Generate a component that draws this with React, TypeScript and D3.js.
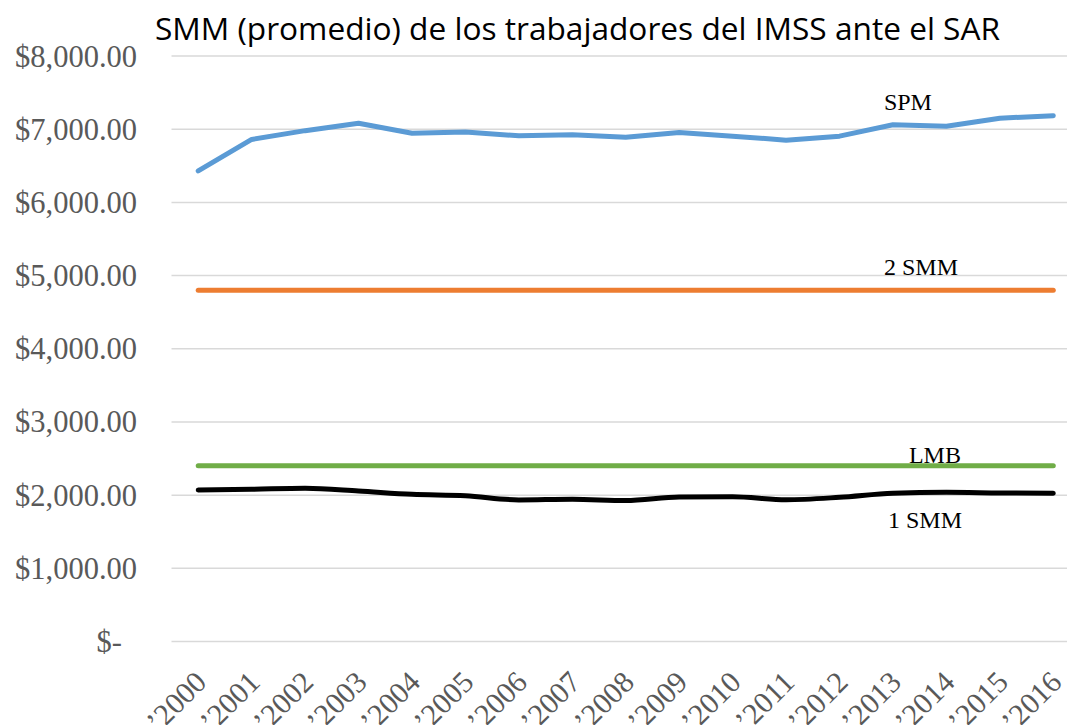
import * as d3 from "d3";

const width = 1067;
const height = 725;

const years = ["2000", "2001", "2002", "2003", "2004", "2005", "2006", "2007", "2008",
  "2009", "2010", "2011", "2012", "2013", "2014", "2015", "2016"];

const spm = [6430, 6860, 6980, 7080, 6945, 6960, 6910, 6925, 6890, 6955, 6905, 6850, 6905, 7060, 7040, 7150, 7185];
const smm2 = [4800, 4800, 4800, 4800, 4800, 4800, 4800, 4800, 4800, 4800, 4800, 4800, 4800, 4800, 4800, 4800, 4800];
const lmb = [2400, 2400, 2400, 2400, 2400, 2400, 2400, 2400, 2400, 2400, 2400, 2400, 2400, 2400, 2400, 2400, 2400];
const smm1 = [2070, 2080, 2093, 2056, 2011, 1992, 1935, 1943, 1925, 1974, 1978, 1937, 1970, 2025, 2038, 2030, 2025];

const yTicks = [0, 1000, 2000, 3000, 4000, 5000, 6000, 7000, 8000];

const title = "SMM (promedio) de los trabajadores del IMSS ante el SAR";

const series = [
  { name: "SPM", values: spm, color: "#5b9bd5", smooth: false, label: { dx: 15, dy: -15, at: "2013" } },
  { name: "2 SMM", values: smm2, color: "#ed7d31", smooth: false, label: { dx: 28, dy: -15, at: "2013" } },
  { name: "LMB", values: lmb, color: "#70ad47", smooth: false, label: { dx: 42, dy: -3, at: "2013" } },
  { name: "1 SMM", values: smm1, color: "#000000", smooth: true, label: { dx: 32, dy: 35, at: "2013" } },
];

const fmt = (v: number) => (v === 0 ? "$-" : "$" + d3.format(",.2f")(v));

export default function App() {
  const x = d3.scalePoint<string>().domain(years).range([171.5, 1080]).padding(0.5);
  const y = d3.scaleLinear().domain([0, 8000]).range([641.5, 56]);

  const serif = "'Liberation Serif', 'Times New Roman', serif";

  return (
    <svg width={width} height={height} style={{ position: "absolute", left: 0, top: 0, background: "#fff" }}>
      <text x={155} y={40} fontFamily="'Open Sans', sans-serif" fontSize={31} fill="#000"
        textLength={845} lengthAdjust="spacingAndGlyphs">
        {title}
      </text>

      {yTicks.map((t) => (
        <g key={t} transform={`translate(0,${y(t)})`}>
          <line x1={171.5} x2={1080} stroke="#d9d9d9" strokeWidth={1.5} />
          <text x={t === 0 ? 122 : 137} y={10.5} textAnchor="end" fontFamily={serif} fontSize={30.5} fill="#595959">
            {fmt(t)}
          </text>
        </g>
      ))}

      {years.map((yr) => (
        <text key={yr} transform={`translate(${(x(yr) as number) + 10},684) rotate(-45)`}
          textAnchor="end" fontFamily={serif} fontSize={30} fill="#595959">
          {"’" + yr}
        </text>
      ))}

      {series.map((s) => {
        const gen = d3.line<number>()
          .x((_, i) => x(years[i]) as number)
          .y((d) => y(d))
          .curve(s.smooth ? d3.curveMonotoneX : d3.curveLinear);
        const idx = years.indexOf(s.label.at);
        return (
          <g key={s.name}>
            <path d={gen(s.values) || ""} fill="none" stroke={s.color} strokeWidth={5}
              strokeLinecap="round" strokeLinejoin="round" />
            <text x={(x(s.label.at) as number) + s.label.dx} y={y(s.values[idx]) + s.label.dy}
              textAnchor="middle" fontFamily={serif} fontSize={24} fill="#000">
              {s.name}
            </text>
          </g>
        );
      })}
    </svg>
  );
}
